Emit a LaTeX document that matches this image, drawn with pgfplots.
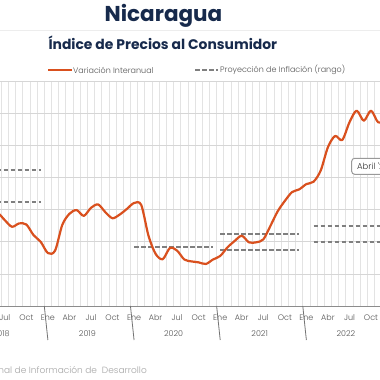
\documentclass[border=0pt]{standalone}
\usepackage{pgfplots}
\pgfplotsset{compat=1.18}
\usepackage{fontspec}
\setmainfont{Poppins}
\newfontfamily\lightfont{Poppins Light}
\definecolor{navy}{HTML}{172A4C}
\definecolor{redl}{HTML}{D9501E}
\definecolor{dgray}{HTML}{7F7F7F}
\definecolor{txtgray}{HTML}{555555}
\definecolor{gridv}{HTML}{E3E3E3}
\definecolor{gridh}{HTML}{D6D6D6}
\begin{document}
\begin{tikzpicture}
\useasboundingbox (0,0) rectangle (380pt,380pt);
\clip (0,0) rectangle (380pt,380pt);
\fill[white] (0,0) rectangle (380pt,380pt);
% title
\node[font=\fontsize{21.5}{21.5}\selectfont\bfseries, text=navy] at (163.5pt,364.5pt) {Nicaragua};
\draw[color=black!7, line width=0.8pt] (0,350pt) -- (380pt,350pt);
\node[font=\fontsize{13.9}{13.9}\selectfont\bfseries, text=navy, anchor=west] at (45pt,337pt) {Índice de Precios al Consumidor};
% legend
\draw[redl, line width=2pt] (48pt,310pt) -- (72pt,310pt);
\node[font=\lightfont\fontsize{8}{8}\selectfont, text=txtgray, anchor=west, inner sep=1pt] at (72pt,310pt) {Variación Interanual};
\draw[dgray, line width=1.8pt, dash pattern=on 4.5pt off 2.5pt] (195pt,310pt) -- (218pt,310pt);
\node[font=\lightfont\fontsize{8}{8}\selectfont, text=txtgray, anchor=west, inner sep=1pt] at (219pt,310pt) {Proyección de Inflación (rango)};
\begin{axis}[
  at={(-41.86pt,74pt)}, anchor=south west,
  x=7.18pt, y=16.04pt,
  xmin=-0.5, xmax=59.5, ymin=0, ymax=14,
  axis line style={draw=none},
  major tick length=0pt, minor tick length=0pt,
  ytick={0,2,...,14}, yticklabels={},
  ymajorgrids, major grid style={gridh, line width=0.8pt},
  xtick={0,3,...,57},
  xticklabels={Ene,Abr,Jul,Oct,Ene,Abr,Jul,Oct,Ene,Abr,Jul,Oct,Ene,Abr,Jul,Oct,Ene,Abr,Jul,Oct},
  xticklabel style={font=\lightfont\fontsize{8}{8}\selectfont, text=txtgray, anchor=center, yshift=-12pt},
  minor xtick={-0.5,0.5,...,59.5},
  xminorgrids, minor grid style={gridv, line width=0.8pt},
  clip=false,
]
\addplot[dgray, line width=1.8pt, dash pattern=on 4.5pt off 2.5pt] coordinates {(0,8.5) (11,8.5)};
\addplot[dgray, line width=1.8pt, dash pattern=on 4.5pt off 2.5pt] coordinates {(0,6.5) (11,6.5)};
\addplot[dgray, line width=1.8pt, dash pattern=on 4.5pt off 2.5pt] coordinates {(24,3.7) (35,3.7)};
\addplot[dgray, line width=1.8pt, dash pattern=on 4.5pt off 2.5pt] coordinates {(36,4.5) (47,4.5)};
\addplot[dgray, line width=1.8pt, dash pattern=on 4.5pt off 2.5pt] coordinates {(36,3.5) (47,3.5)};
\addplot[dgray, line width=1.8pt, dash pattern=on 4.5pt off 2.5pt] coordinates {(49,5.0) (59,5.0)};
\addplot[dgray, line width=1.8pt, dash pattern=on 4.5pt off 2.5pt] coordinates {(49,4.0) (59,4.0)};
\addplot[redl, line width=2.2pt, smooth, tension=0.5, line join=round] table {
m v
4 5.7
5 5.8
6 5.35
7 4.94
8 5.15
9 5.08
10 4.42
11 4.0
12 3.3
13 3.45
14 5.05
15 5.75
16 5.98
17 5.62
18 6.12
19 6.33
20 5.85
21 5.47
22 5.7
23 6.05
24 6.42
25 6.3
26 4.4
27 3.25
28 2.92
29 3.62
30 3.45
31 2.9
32 2.78
33 2.72
34 2.62
35 2.9
36 3.12
37 3.65
38 4.05
39 4.38
40 3.97
41 3.97
42 4.15
43 5.0
44 5.9
45 6.55
46 7.1
47 7.27
48 7.6
49 7.75
50 8.45
51 9.9
52 10.6
53 10.35
54 11.45
55 12.18
56 11.55
57 12.18
58 11.45
59 11.6
};
\draw[color=black!45, line width=0.9pt] (axis cs:-0.5,0) -- (axis cs:59.5,0);
\draw[color=black!55, line width=0.8pt] (axis cs:11.5,0) -- ++(0,-34pt);
\draw[color=black!55, line width=0.8pt] (axis cs:23.5,0) -- ++(0,-34pt);
\draw[color=black!55, line width=0.8pt] (axis cs:35.5,0) -- ++(0,-34pt);
\draw[color=black!55, line width=0.8pt] (axis cs:47.5,0) -- ++(0,-34pt);
\node[font=\lightfont\fontsize{8}{8}\selectfont, text=txtgray] at ([yshift=-28pt]axis cs:5.5,0) {2018};
\node[font=\lightfont\fontsize{8}{8}\selectfont, text=txtgray] at ([yshift=-28pt]axis cs:17.5,0) {2019};
\node[font=\lightfont\fontsize{8}{8}\selectfont, text=txtgray] at ([yshift=-28pt]axis cs:29.5,0) {2020};
\node[font=\lightfont\fontsize{8}{8}\selectfont, text=txtgray] at ([yshift=-28pt]axis cs:41.5,0) {2021};
\node[font=\lightfont\fontsize{8}{8}\selectfont, text=txtgray] at ([yshift=-28pt]axis cs:53.5,0) {2022};
\end{axis}
% tooltip
\draw[fill=white, draw=black!40, line width=1pt, rounded corners=3pt] (351.7pt,205.7pt) rectangle (420pt,221.7pt);
\node[font=\lightfont\fontsize{8.5}{8.5}\selectfont, text=black!80, anchor=west, inner sep=0pt] at (357pt,213.7pt) {Abril '22};
% source
\node[font=\lightfont\fontsize{9}{9}\selectfont, text=black!35, anchor=east, inner sep=0pt] at (147pt,8.3pt) {Sistema Regional de Información de\ \ Desarrollo};
\end{tikzpicture}
\end{document}
